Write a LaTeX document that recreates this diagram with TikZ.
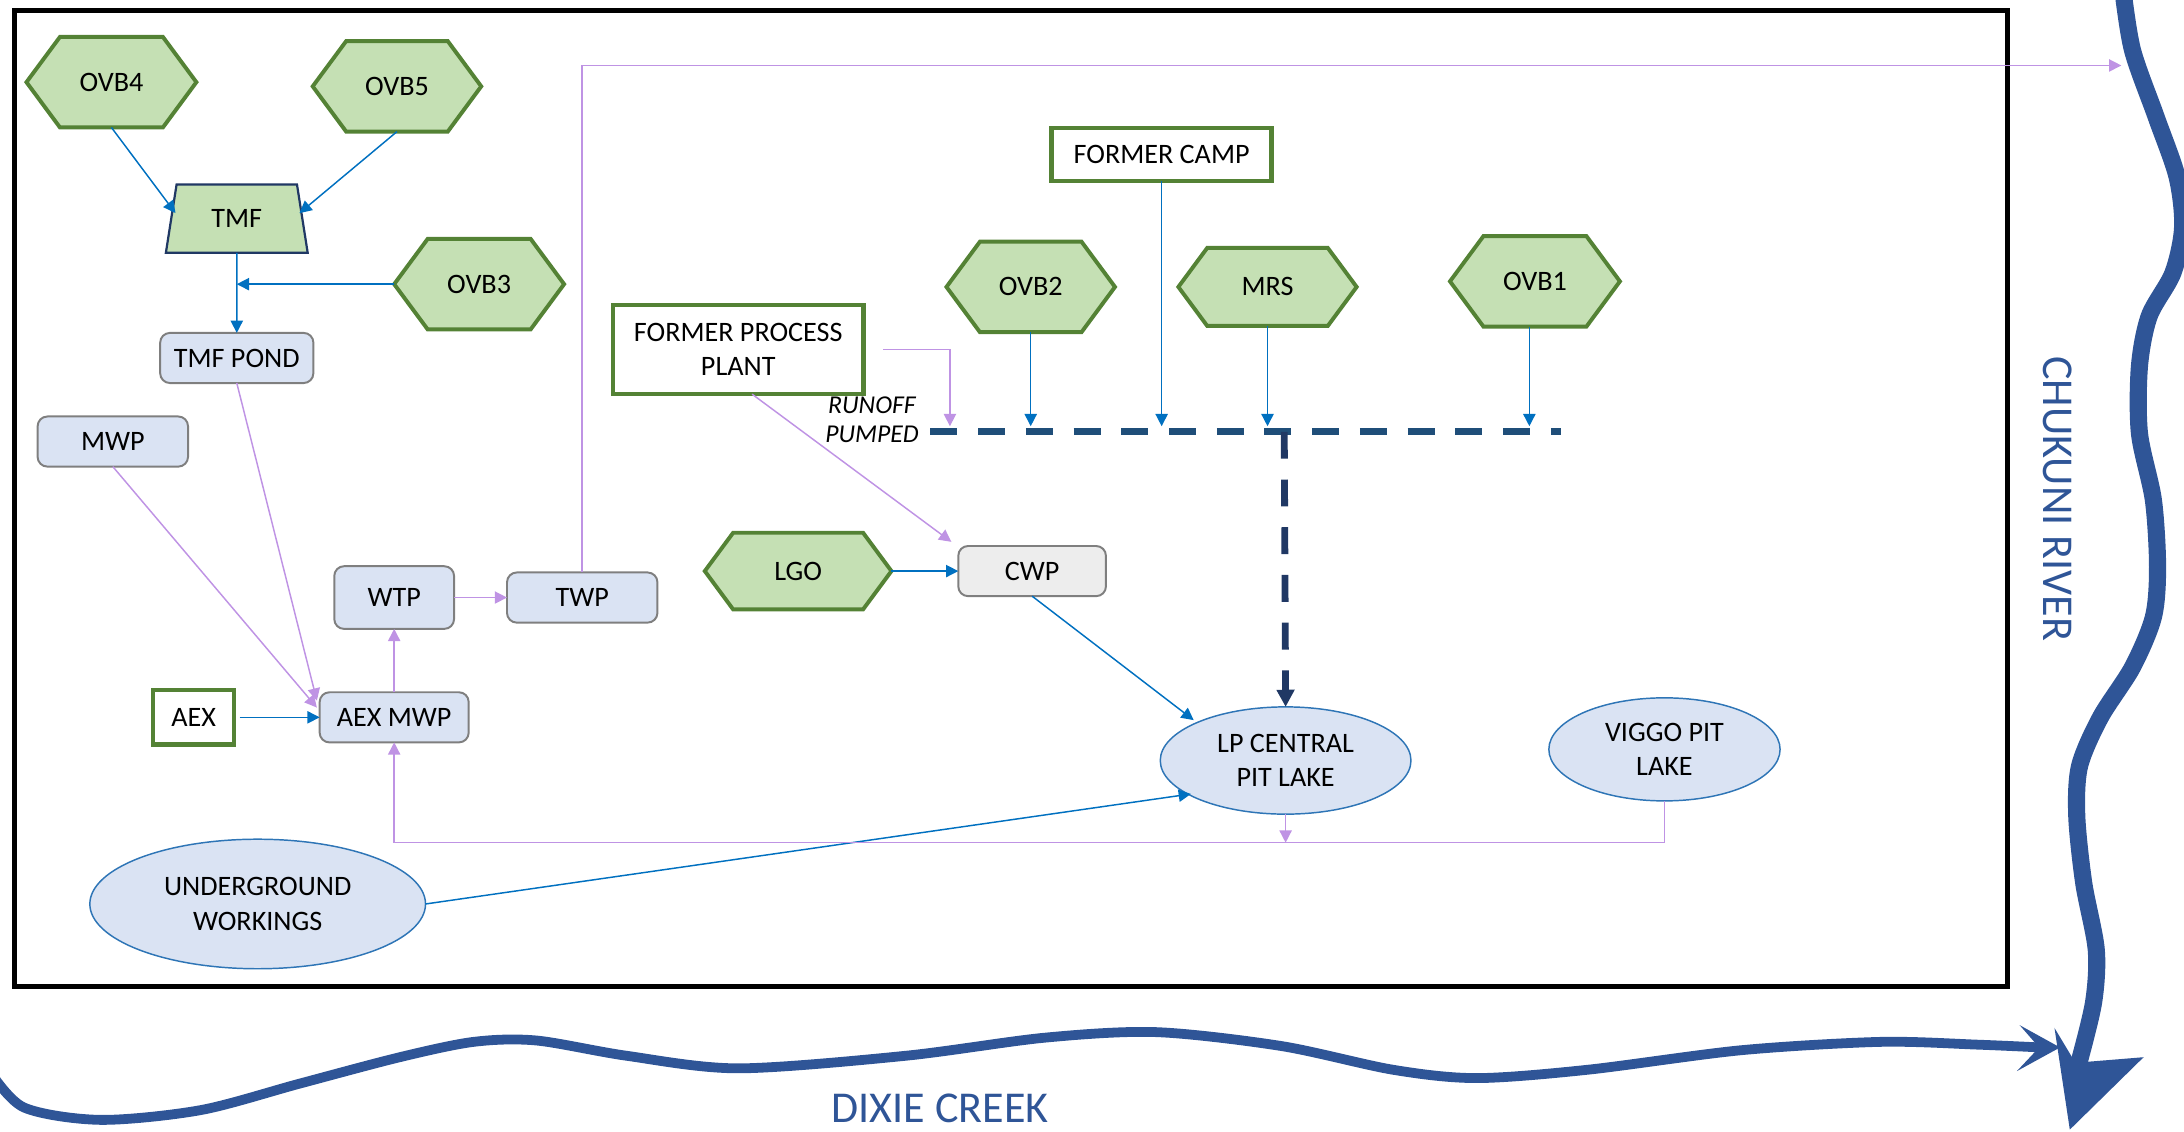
\documentclass[tikz,border=0pt]{standalone}
\usepackage{fontspec}
\setmainfont{Carlito}
\usetikzlibrary{arrows.meta,shapes.geometric,calc}
\definecolor{gfill}{HTML}{C5E0B4}
\definecolor{gline}{HTML}{548235}
\definecolor{bfill}{HTML}{DAE3F3}
\definecolor{gryline}{HTML}{7F7F7F}
\definecolor{cfill}{HTML}{EDEDED}
\definecolor{bline}{HTML}{0070C0}
\definecolor{eline}{HTML}{2E75B6}
\definecolor{purp}{HTML}{BF93E4}
\definecolor{navy}{HTML}{1F4E79}
\definecolor{navyd}{HTML}{203864}
\definecolor{river}{HTML}{2F5597}
\newcommand{\hexnode}[5]{%
  \node[hexcore, minimum width=#3*0.02cm, minimum height=#4*0.02cm] (#1) at (#2) {};
  \path[hexshape] (#1.west) -- ([xshift=#4*0.0074cm]#1.north west) -- ([xshift=-#4*0.0074cm]#1.north east) -- (#1.east) -- ([xshift=-#4*0.0074cm]#1.south east) -- ([xshift=#4*0.0074cm]#1.south west) -- cycle;
  \node (#1-t) at (#1.center) {#5};}
\begin{document}
\begin{tikzpicture}[x=0.02cm,y=-0.02cm,
  every node/.style={font=\fontsize{11.5}{14}\selectfont, inner sep=0pt, outer sep=0pt},
  hexcore/.style={rectangle, draw=none},
  hexshape/.style={fill=gfill, draw=gline, line width=1.6pt},
  rbox/.style={rectangle, rounded corners=4pt, draw=gryline, fill=bfill, line width=0.8pt, align=center},
  gbox/.style={rectangle, draw=gline, fill=white, line width=1.8pt, align=center},
  lake/.style={ellipse, draw=eline, fill=bfill, line width=0.6pt, align=center},
  barr/.style={draw=bline, line width=0.6pt, -{Triangle[length=5pt,width=5pt]}},
  parr/.style={draw=purp, line width=0.6pt, -{Triangle[length=5pt,width=5pt]}},
  dline/.style={line width=2.8pt, dash pattern=on 11pt off 8.5pt},
  lbl/.style={font=\fontsize{10.5}{12}\selectfont\itshape},
  rivtxt/.style={text=river, font=\fontsize{18}{20}\selectfont}
]
\useasboundingbox (0,0) rectangle (1568,812);

% frame
\draw[line width=2pt] (10.5,7.5) rectangle (1441,708.5);

% hexagons
\hexnode{OVB4}{80,59}{122}{65}{OVB4}
\hexnode{OVB5}{285,62}{121}{65}{OVB5}
\hexnode{OVB3}{344,204}{122}{65}{OVB3}
\hexnode{OVB2}{740,206}{121}{65}{OVB2}
\hexnode{MRS}{910,206}{128}{56}{MRS}
\hexnode{OVB1}{1102,202}{122}{65}{OVB1}
\hexnode{LGO}{573,410}{134}{55}{LGO}

% trapezium
\node[trapezium, trapezium stretches=true, trapezium left angle=76, trapezium right angle=76,
      minimum width=102*0.02cm, minimum height=49*0.02cm, draw=navyd, fill=gfill, line width=0.9pt]
      (TMF) at (170,157) {TMF};

% boxes
\node[rbox, minimum width=110*0.02cm, minimum height=36*0.02cm] (TPOND) at (170,257) {TMF POND};
\node[rbox, minimum width=108*0.02cm, minimum height=36*0.02cm] (MWP) at (81,317) {MWP};
\node[rbox, minimum width=86*0.02cm, minimum height=45*0.02cm] (WTP) at (283,429) {WTP};
\node[rbox, minimum width=108*0.02cm, minimum height=36*0.02cm] (TWP) at (418,429) {TWP};
\node[rbox, minimum width=107*0.02cm, minimum height=36*0.02cm] (AEXMWP) at (283,515) {AEX MWP};
\node[rbox, fill=cfill, minimum width=106*0.02cm, minimum height=36*0.02cm] (CWP) at (741,410) {CWP};
\node[gbox, minimum width=58*0.02cm, minimum height=39*0.02cm] (AEX) at (139,515) {AEX};
\node[gbox, minimum width=180*0.02cm, minimum height=64*0.02cm] (FPP) at (530,251) {FORMER PROCESS\\PLANT};
\node[gbox, minimum width=158*0.02cm, minimum height=38*0.02cm] (FC) at (834,111) {FORMER CAMP};

% lakes
\node[lake, minimum width=241*0.02cm, minimum height=93*0.02cm] (UG) at (185,649) {UNDERGROUND\\WORKINGS};
\node[lake, minimum width=180*0.02cm, minimum height=77*0.02cm] (LPC) at (923,546) {LP CENTRAL\\PIT LAKE};
\node[lake, minimum width=166*0.02cm, minimum height=74*0.02cm] (VIG) at (1195,538) {VIGGO PIT\\LAKE};

% labels
\node[lbl] (RUN) at (626,291) {RUNOFF};
\node[lbl] (PUMP) at (626,312) {PUMPED};

% connectors
\draw[barr] (OVB4.south) -- ($(TMF.center)+(-44,-4)$);
\draw[barr] (OVB5.south) -- ($(TMF.center)+(45,-4)$);
\draw[barr] (TMF.south) -- (TPOND.north);
\draw[barr] (OVB3.west) -- (TMF.south |- OVB3.west);
\draw[parr] (TPOND.south) -- ($(AEXMWP.north west)+(-2,6)$);
\draw[parr] (MWP.south) -- ($(AEXMWP.north west)+(-2,11)$);
\draw[barr] ($(AEX.east)+(4,0)$) -- (AEXMWP.west);
\draw[parr] (AEXMWP.north) -- (WTP.south);
\draw[parr] (WTP.east) -- (TWP.west);
\coordinate (RIV) at (1523,47);
\draw[parr] (TWP.north) |- (RIV);
\coordinate (FPPD) at (682,306);
\draw[parr] ($(FPP.east)+(14,0)$) -| (FPPD);
\draw[parr] ($(FPP.south)+(10,0)$) -- ($(CWP.north west)+(-5,-3)$);
\draw[barr] (LGO.east) -- (CWP.west);
\draw[barr] (CWP.south) -- ($(LPC.center)+(-66,-29)$);
\draw[barr] (UG.east) -- ($(LPC.center)+(-68,24)$);
\coordinate (DL) at (0,306);
\draw[barr] (OVB2.south) -- (OVB2.south |- DL);
\draw[barr] (FC.south) -- (FC.south |- DL);
\draw[barr] (MRS.south) -- (MRS.south |- DL);
\draw[barr] ($(OVB1.south)+(-4,0)$) -- ($(OVB1.south |- DL)+(-4,0)$);

% dashed pumped runoff line
\coordinate (DS) at (668,310);
\coordinate (DE) at (1121,310);
\coordinate (DJ) at (922,310);
\draw[dline, draw=navy] (DS) -- (DE);
\draw[dline, draw=navyd, -{Triangle[length=7pt,width=7pt]}] (DJ) -- (LPC.north);

% bottom purple return line
\coordinate (BOT) at (0,605);
\draw[parr] (LPC.south) -- (LPC.south |- BOT);
\draw[parr] (VIG.south) |- (AEXMWP.south |- BOT) -- (AEXMWP.south);

% rivers
\draw[river, line width=7pt] plot[smooth] coordinates {(1524,-8) (1531,36) (1548,84) (1563,127) (1567,163) (1560,196) (1543,227) (1536,263) (1536,311) (1546,359) (1549,407) (1546,443) (1531,479) (1508,515) (1493,550) (1491,586) (1496,634) (1505,682) (1503,720) (1492,765)};
\fill[river] (1486,811) -- (1475,738) -- (1490,763) -- (1539,759) -- cycle;
\draw[river, line width=4pt] plot[smooth] coordinates {(-8,768) (17,795) (72,804) (144,797) (215,778) (287,759) (340,748) (385,747) (450,758) (530,767) (650,758) (750,745) (830,741) (920,751) (1000,768) (1060,774) (1140,768) (1250,754) (1350,748) (1420,750) (1465,752)};
\fill[river] (1479,752) -- (1450,736) -- (1464,752) -- (1448,769) -- cycle;

\node[rivtxt, rotate=-90] (CHR) at (1477,358) {CHUKUNI RIVER};
\node[rivtxt] (DIX) at (675,796) {DIXIE CREEK};
\end{tikzpicture}
\end{document}
